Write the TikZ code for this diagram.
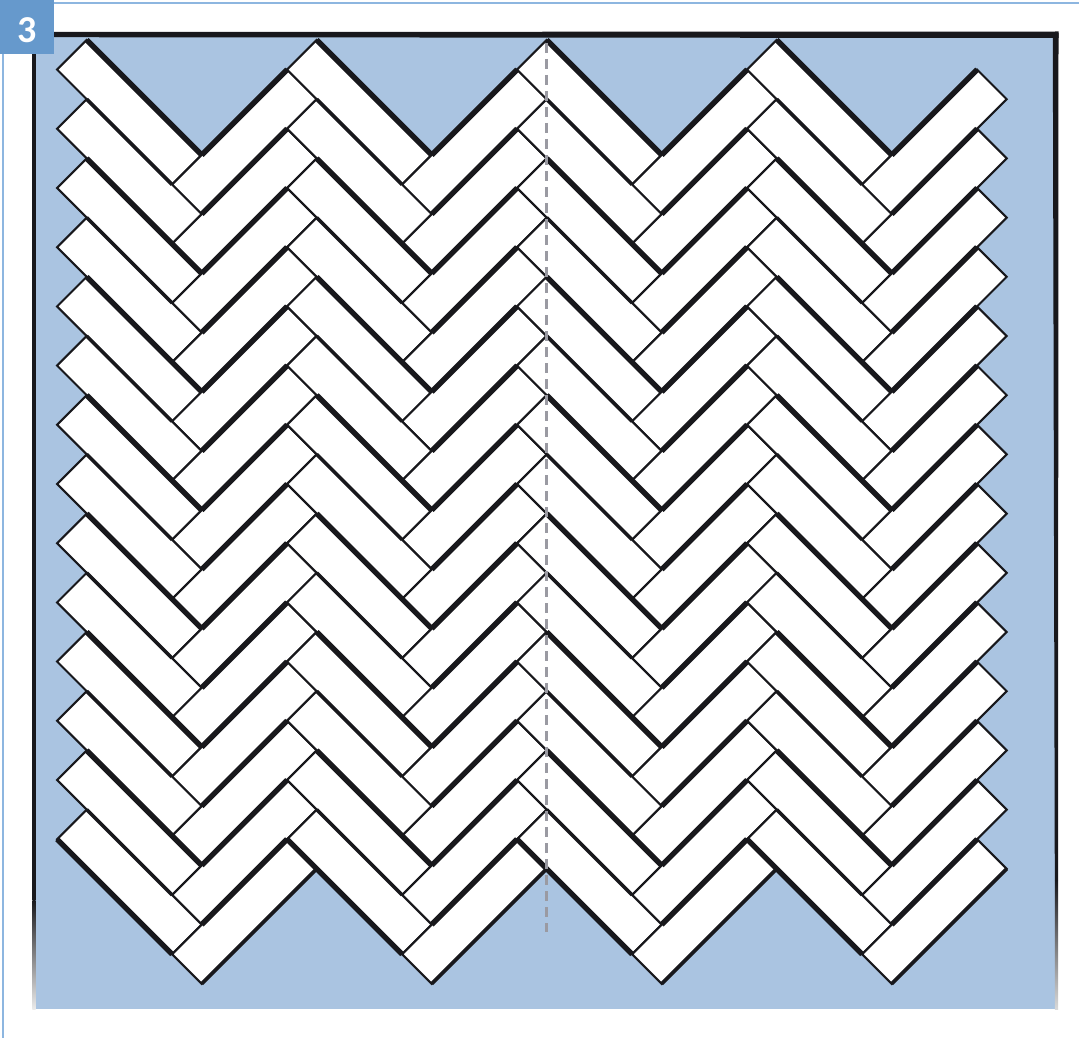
\documentclass[tikz,border=0pt]{standalone}
\usepackage{fontspec}
\newfontfamily\labelfont{Carlito}
\definecolor{bgblue}{HTML}{AAC4E1}
\definecolor{boxblue}{HTML}{6699CC}
\definecolor{framebl}{HTML}{8DB6E0}
\definecolor{ink}{HTML}{18181C}
\definecolor{dashgr}{HTML}{9A9AA2}
\tikzset{
  tile/.style={fill=white,draw=ink,line width=2.1pt,line join=miter},
  heavy/.style={draw=ink,line width=5.4pt,line cap=butt},
  medium/.style={draw=ink,line width=3.6pt,line cap=butt},
}
\begin{document}
\begin{tikzpicture}[x=1pt,y=-1pt]
\useasboundingbox (0,0) rectangle (1079,1038);
% outer light frame
\draw[framebl,line width=2pt] (0,3) -- (1079,3);
\draw[framebl,line width=2pt] (2.5,0) -- (2.5,1038);
% blue ground
\fill[bgblue] (34,36) rectangle (1055.5,1009);
% dark borders
\fill[ink] (33,32) -- (1058.5,31.5) -- (1058.5,38) -- (33,37.2) -- cycle;
\fill[ink] (1052.8,33) -- (1058.5,33) -- (1058,880) -- (1054.8,880) -- cycle;
\shade[top color=ink,bottom color=black!15] (1054.8,880) rectangle (1058,1009);
\fill[ink] (32.4,33) rectangle (35.6,900);
\shade[top color=ink,bottom color=black!8] (32.4,900) rectangle (35.6,1009);
% tiles
\foreach \k in {0,...,3}{
  \foreach \i in {0,...,13}{
    \pgfmathsetmacro\px{86.7+230*\k}
    \pgfmathsetmacro\py{40+59.2*\i}
    \filldraw[tile] (\px,\py) -- ++(115,115) -- ++(-29.6,29.6) -- ++(-115,-115) -- cycle;
    \filldraw[tile] (\px+85.4,\py+144.6) -- ++(29.6,29.6) -- ++(115,-115) -- ++(-29.6,-29.6) -- cycle;
  }
}
% heavier edges
\foreach \k in {0,...,3}{
  \foreach \i in {0,...,13}{
    \pgfmathsetmacro\px{86.7+230*\k}
    \pgfmathsetmacro\py{40+59.2*\i}
    \ifodd\i
      \draw[medium] (\px,\py) -- ++(85.4,85.4);
    \else
      \draw[heavy] (\px,\py) -- ++(115,115);
    \fi
    \draw[heavy] (\px+115,\py+115) -- ++(85.4,-85.4);
  }
  \pgfmathsetmacro\px{86.7+230*\k}
  \pgfmathsetmacro\py{40+59.2*13}
  \draw[heavy] (\px-29.6,\py+29.6) -- ++(115,115);
  \draw[medium] (\px+115,\py+174.2) -- ++(115,-115);
}
% dashed axis
\draw[dashgr,line width=2.2pt,dash pattern=on 10pt off 6pt] (546.5,43) -- (546.5,932);
% number box
\fill[boxblue] (0,0) rectangle (54,54);
\node[anchor=base,text=white,inner sep=0pt,font=\labelfont\bfseries\fontsize{38}{38}\selectfont] (num) at (27.3,42.5) {3};
\end{tikzpicture}
\end{document}
